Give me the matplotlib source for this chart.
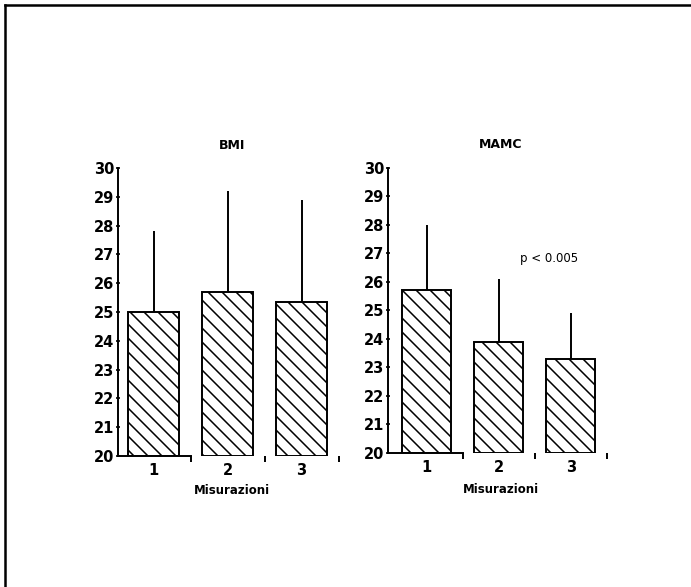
import matplotlib
matplotlib.use("Agg")
import matplotlib.pyplot as plt
import numpy as np

DPI = 84
S = 100 / DPI  # scale so sizes look as they would at dpi 100

plt.rcParams['font.family'] = ['DejaVu Sans']
plt.rcParams['hatch.linewidth'] = 1.1 * S

categories = ["1", "2", "3"]
bmi_mean = [25.0, 25.7, 25.35]
bmi_sd = [2.8, 3.5, 3.55]
mamc_mean = [25.7, 23.9, 23.3]
mamc_sd = [2.3, 2.2, 1.6]
yticks = list(range(20, 31))
titles = ["BMI", "MAMC"]
xlabel = "Misurazioni"
annot = "p < 0.005"

W, H = 691, 587
fig = plt.figure(figsize=(W / DPI, H / DPI), dpi=DPI)

# outer frame (top and left edges)
fig.add_artist(plt.Line2D([5 / W, 5 / W], [0, 1 - 5 / H], color="black", lw=1.8 * S, transform=fig.transFigure))
fig.add_artist(plt.Line2D([5 / W, 1], [1 - 5 / H, 1 - 5 / H], color="black", lw=1.8 * S, transform=fig.transFigure))

specs = [
    dict(rect=[118 / W, 1 - 456 / H, 228 / W, 288 / H], xlim=(0.52, 3.6), mean=bmi_mean, sd=bmi_sd,
         title=titles[0], labelpad=4),
    dict(rect=[388 / W, 1 - 453 / H, 226 / W, 285.5 / H], xlim=(0.46, 3.6), mean=mamc_mean, sd=mamc_sd,
         title=titles[1], labelpad=6),
]

axes = []
for s in specs:
    ax = fig.add_axes(s["rect"])
    x = np.arange(1, len(categories) + 1)
    ax.bar(x, np.array(s["mean"]) - 20, bottom=20, width=0.68, color="white",
           edgecolor="black", linewidth=1.4 * S, hatch="\\\\", zorder=2)
    ax.errorbar(x, s["mean"], yerr=[np.zeros(len(x)), s["sd"]], fmt="none",
                ecolor="black", elinewidth=1.4 * S, capsize=0, zorder=1)
    ax.set_xlim(*s["xlim"])
    ax.set_ylim(20, 30)
    ax.set_yticks(yticks)
    ax.set_yticklabels([str(t) for t in yticks], fontsize=10.5 * S, fontweight="bold")
    ax.set_xticks(x)
    ax.set_xticklabels(categories, fontsize=10.5 * S, fontweight="bold")
    ax.set_xticks([1.5, 2.5, 3.5], minor=True)
    ax.tick_params(axis="x", which="major", length=0, pad=5 * S)
    ax.tick_params(axis="x", which="minor", length=4 * S, width=1.4 * S, direction="out")
    ax.tick_params(axis="y", which="major", length=3.5 * S, width=1.2 * S, direction="inout", pad=1 * S)
    for sp in ["top", "right"]:
        ax.spines[sp].set_visible(False)
    ax.spines["left"].set_linewidth(1.4 * S)
    ax.spines["bottom"].set_linewidth(1.4 * S)
    ax.spines["bottom"].set_bounds(s["xlim"][0], 1.5)
    ax.set_title(s["title"], fontsize=9 * S, fontweight="bold", pad=14 * S)
    ax.set_xlabel(xlabel, fontsize=8.5 * S, fontweight="bold", labelpad=s["labelpad"] * S)
    ax.patch.set_visible(False)
    axes.append(ax)

axes[1].text(2.7, 26.8, annot, fontsize=8.5 * S, ha="center", va="center")

fig.savefig("out.png", dpi=DPI, facecolor="white")
